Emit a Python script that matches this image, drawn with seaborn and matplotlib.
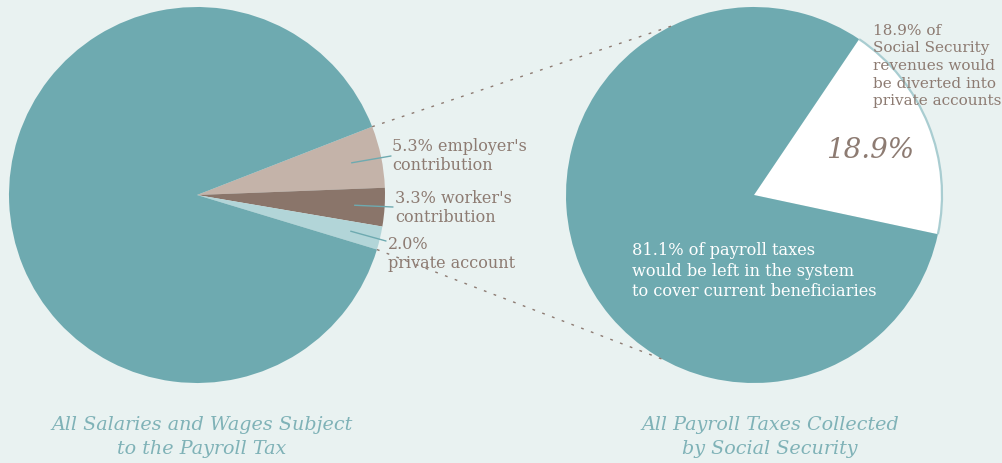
import numpy as np
import matplotlib.pyplot as plt
import seaborn as sns
from matplotlib.patches import Arc

# Left pie: breakdown of salaries and wages
left_labels = ["5.3% employer's\ncontribution", "3.3% worker's\ncontribution", "2.0%\nprivate account", ""]
left_values = [5.3, 3.3, 2.0, 89.4]

# Right pie: payroll taxes collected
right_values = [18.9, 81.1]
right_pct_label = "18.9%"
right_note = "18.9% of\nSocial Security\nrevenues would\nbe diverted into\nprivate accounts"
right_inner = "81.1% of payroll taxes\nwould be left in the system\nto cover current beneficiaries"

titles = ["All Salaries and Wages Subject\nto the Payroll Tax",
          "All Payroll Taxes Collected\nby Social Security"]

bg = "#e9f2f1"
teal = "#6eaab0"
tan = "#c4b3a9"
brown = "#8a756a"
lightblue = "#b2d5d8"
textc = "#8d7b72"

sns.set_theme(style="white", rc={"figure.facecolor": bg, "axes.facecolor": bg})
plt.rcParams["font.family"] = ["DejaVu Serif"]

fig = plt.figure(figsize=(10.02, 4.64), dpi=100)
ax = fig.add_axes([0, 0, 1, 1])

H = 464
r = 188
lc = (197, H - 196)
rc_ = (754, H - 196)

left_start = 21.3  # small slices start just above the horizontal
left_cols = [tan, brown, lightblue, teal]
wl, _ = ax.pie(left_values, colors=left_cols, startangle=left_start, counterclock=False,
               center=lc, radius=r, frame=True, wedgeprops=dict(linewidth=0))

right_start = 56
wr, _ = ax.pie(right_values, colors=["white", teal], startangle=right_start, counterclock=False,
               center=rc_, radius=r, frame=True, wedgeprops=dict(linewidth=0))

# light outline on the white wedge arc
w = wr[0]
ax.add_patch(Arc(rc_, 2 * r, 2 * r, theta1=w.theta1, theta2=w.theta2,
                 color="#a9cdd1", lw=1.6, zorder=3))

# dashed connectors from the small slices to the right pie
a_top = np.deg2rad(wl[0].theta2)
a_bot = np.deg2rad(wl[2].theta1)
for a1, a2 in [(a_top, np.deg2rad(116)), (a_bot, np.deg2rad(241))]:
    x1, y1 = lc[0] + r * np.cos(a1), lc[1] + r * np.sin(a1)
    x2, y2 = rc_[0] + r * np.cos(a2), rc_[1] + r * np.sin(a2)
    ax.plot([x1, x2], [y1, y2], color=textc, lw=1, ls=(0, (2.0, 5.5)), zorder=4)

# labels with teal leader lines
label_pos = [(392, H - 156), (395, H - 208), (388, H - 254)]
leader_end = [(391, H - 157), (393, H - 208), (386, H - 242)]
for wdg, lab, (tx, ty), (ex, ey) in zip(wl[:3], left_labels[:3], label_pos, leader_end):
    mid = np.deg2rad((wdg.theta1 + wdg.theta2) / 2)
    px, py = lc[0] + 0.84 * r * np.cos(mid), lc[1] + 0.84 * r * np.sin(mid)
    ax.plot([px, ex], [py, ey], color=teal, lw=1)
    ax.text(tx, ty, lab, ha="left", va="center", color=textc, fontsize=11.5,
            linespacing=1.2)

ax.text(870, H - 150, right_pct_label, ha="center", va="center", color=textc,
        fontsize=20, style="italic")
ax.text(873, H - 66, right_note, ha="left", va="center", color=textc, fontsize=11,
        linespacing=1.34)
ax.text(632, H - 271, right_inner, ha="left", va="center", color="white", fontsize=11.7,
        linespacing=1.3)

ax.text(202, H - 437, titles[0], ha="center", va="center", color="#7fb2b7",
        fontsize=13.8, style="italic", linespacing=1.4)
ax.text(770, H - 437, titles[1], ha="center", va="center", color="#7fb2b7",
        fontsize=13.8, style="italic", linespacing=1.4)

ax.set_xlim(0, 1002)
ax.set_ylim(0, H)
ax.set_aspect("equal")
ax.axis("off")

fig.savefig("out.png", dpi=100, facecolor=bg)
